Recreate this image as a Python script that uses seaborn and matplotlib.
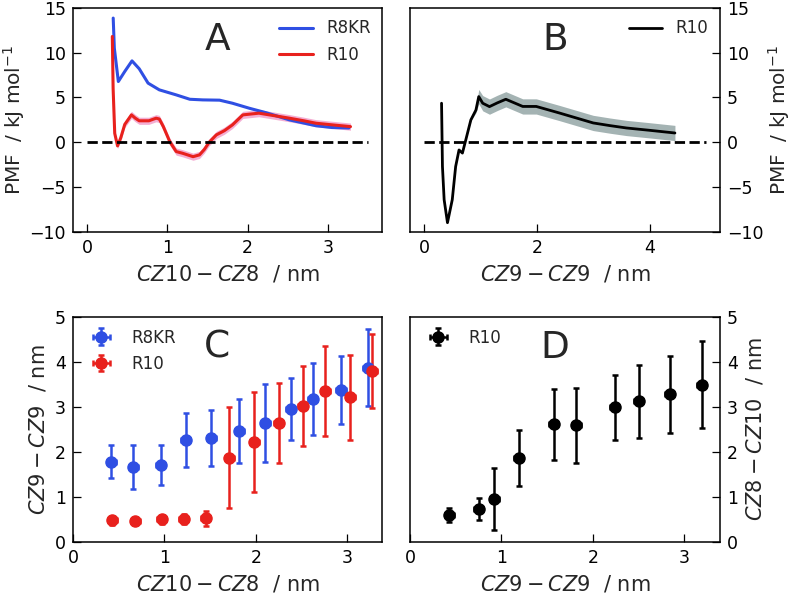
import matplotlib
matplotlib.use("Agg")
import matplotlib.pyplot as plt
import pandas as pd
import seaborn as sns

# ---- Panel A: PMF along CZ10-CZ8 ---------------------------------------
r8kr_x = [0.326, 0.34, 0.39, 0.47, 0.56, 0.65, 0.76, 0.9, 1.11, 1.28, 1.44,
          1.65, 1.81, 2.02, 2.23, 2.52, 2.85, 3.05, 3.26]
r8kr_y = [13.85, 10.5, 6.78, 7.9, 9.08, 8.2, 6.6, 5.85, 5.29, 4.8, 4.73,
          4.7, 4.36, 3.8, 3.3, 2.5, 1.85, 1.65, 1.6]

r10_x = [0.315, 0.325, 0.345, 0.38, 0.42, 0.47, 0.553, 0.6, 0.65, 0.77, 0.86,
         0.9, 0.95, 1.03, 1.11, 1.19, 1.32, 1.4, 1.46, 1.52, 1.61, 1.71, 1.81,
         1.94, 2.14, 2.31, 2.52, 2.7, 2.85, 3.05, 3.28]
r10_y = [11.8, 6.0, 1.0, -0.4, 0.5, 2.0, 3.06, 2.7, 2.4, 2.4, 2.69,
         2.6, 1.75, 0.08, -1.03, -1.22, -1.6, -1.4, -0.8, 0.0, 0.83, 1.3, 1.94,
         3.06, 3.25, 3.0, 2.69, 2.4, 2.13, 1.95, 1.75]
r10_err = [0.0, 0.1, 0.2, 0.3, 0.35, 0.35, 0.4, 0.4, 0.4, 0.4, 0.4,
           0.4, 0.4, 0.4, 0.4, 0.4, 0.4, 0.4, 0.4, 0.4, 0.4, 0.4, 0.4,
           0.4, 0.4, 0.4, 0.4, 0.4, 0.4, 0.4, 0.4]

# ---- Panel B: PMF along CZ9-CZ9 ----------------------------------------
r10b_x = [0.31, 0.326, 0.356, 0.415, 0.50, 0.56, 0.62, 0.68, 0.74, 0.83, 0.92,
          0.97, 1.04, 1.16, 1.3, 1.45, 1.75, 1.99, 2.4, 3.0, 3.3, 3.59, 4.0, 4.45]
r10b_y = [4.36, -2.7, -6.4, -8.96, -6.4, -2.7, -0.85, -1.2, 0.27, 2.5, 3.6,
          5.1, 4.36, 3.98, 4.4, 4.8, 4.0, 4.0, 3.27, 2.16, 1.86, 1.6, 1.34, 1.04]
r10b_err = [0.0, 0.0, 0.0, 0.0, 0.0, 0.0, 0.0, 0.0, 0.0, 0.1, 0.3,
            0.8, 0.85, 0.85, 0.85, 0.85, 0.85, 0.85, 0.85, 0.85, 0.85, 0.85, 0.85, 0.85]

# ---- Panel C: CZ9-CZ9 vs CZ10-CZ8 --------------------------------------
c_r8kr_x = [0.42, 0.66, 0.96, 1.23, 1.51, 1.82, 2.1, 2.38, 2.62, 2.93, 3.22]
c_r8kr_y = [1.78, 1.67, 1.71, 2.27, 2.31, 2.47, 2.64, 2.95, 3.17, 3.37, 3.87]
c_r8kr_yerr = [0.37, 0.49, 0.45, 0.6, 0.62, 0.71, 0.86, 0.69, 0.8, 0.76, 0.86]

c_r10_x = [0.43, 0.68, 0.97, 1.21, 1.45, 1.71, 1.98, 2.25, 2.51, 2.76, 3.03, 3.27]
c_r10_y = [0.48, 0.47, 0.5, 0.5, 0.52, 1.87, 2.21, 2.65, 3.02, 3.36, 3.21, 3.8]
c_r10_yerr = [0.1, 0.09, 0.1, 0.11, 0.17, 1.12, 1.11, 0.89, 0.89, 1.0, 0.95, 0.82]

# ---- Panel D: CZ8-CZ10 vs CZ9-CZ9 --------------------------------------
d_r10_x = [0.43, 0.75, 0.92, 1.19, 1.57, 1.82, 2.24, 2.5, 2.84, 3.19]
d_r10_y = [0.6, 0.73, 0.96, 1.86, 2.61, 2.59, 2.99, 3.12, 3.28, 3.49]
d_r10_yerr = [0.16, 0.24, 0.69, 0.62, 0.79, 0.83, 0.72, 0.82, 0.86, 0.97]

xerr_pts = 0.05

BLUE = "#2f4fe3"
RED = "#e8211d"
PINK = "#f29ac8"
GREY = "#9aabab"

sns.set_style("ticks")
plt.rcParams.update({
    "font.family": ["DejaVu Sans"],
    "mathtext.fontset": "dejavusans",
    "axes.edgecolor": "black",
    "axes.linewidth": 1.1,
    "xtick.direction": "in",
    "ytick.direction": "in",
    "xtick.major.size": 5.5,
    "ytick.major.size": 5.5,
    "xtick.major.width": 0.9,
    "ytick.major.width": 0.9,
    "xtick.major.pad": 5,
    "ytick.major.pad": 5,
    "xtick.color": "black",
    "ytick.color": "black",
    "xtick.labelsize": 12.5,
    "ytick.labelsize": 12.5,
    "axes.labelsize": 15,
    "legend.fontsize": 12,
})

fig = plt.figure(figsize=(7.93, 5.98), dpi=100)
axA = fig.add_axes([0.092, 0.612, 0.390, 0.375])
axB = fig.add_axes([0.517, 0.612, 0.391, 0.375])
axC = fig.add_axes([0.092, 0.094, 0.390, 0.376])
axD = fig.add_axes([0.517, 0.094, 0.391, 0.376])

pmf_label = "PMF  / kJ mol$^{-1}$"

# ---- A ----
dfA1 = pd.DataFrame({"x": r8kr_x, "y": r8kr_y})
dfA2 = pd.DataFrame({"x": r10_x, "y": r10_y, "e": r10_err})
axA.fill_between(dfA2.x, dfA2.y - dfA2.e, dfA2.y + dfA2.e, color=PINK, lw=0, alpha=0.8)
sns.lineplot(data=dfA1, x="x", y="y", ax=axA, color=BLUE, lw=2.2, label="R8KR")
sns.lineplot(data=dfA2, x="x", y="y", ax=axA, color=RED, lw=2.2, label="R10")
axA.plot([0, 3.5], [0, 0], ls="--", color="black", lw=2)
axA.set_xlim(-0.175, 3.675)
axA.set_ylim(-10, 15)
axA.set_xticks([0, 1, 2, 3])
axA.set_yticks([-10, -5, 0, 5, 10, 15])
axA.set_xlabel("$CZ10-CZ8$  / nm", labelpad=5)
axA.set_ylabel(pmf_label, labelpad=2, fontsize=14.5)
axA.legend(loc="upper right", frameon=False, borderaxespad=0.3)
axA.text(0.466, 0.857, "A", transform=axA.transAxes, fontsize=27, ha="center", va="center")

# ---- B ----
dfB = pd.DataFrame({"x": r10b_x, "y": r10b_y, "e": r10b_err})
axB.fill_between(dfB.x, dfB.y - dfB.e, dfB.y + dfB.e, color=GREY, lw=0, alpha=0.9)
sns.lineplot(data=dfB, x="x", y="y", ax=axB, color="black", lw=2.0, label="R10")
axB.plot([0, 5], [0, 0], ls="--", color="black", lw=2)
axB.set_xlim(-0.25, 5.25)
axB.set_ylim(-10, 15)
axB.set_xticks([0, 2, 4])
axB.set_yticks([-10, -5, 0, 5, 10, 15])
axB.yaxis.tick_right()
axB.yaxis.set_label_position("right")
axB.set_xlabel("$CZ9-CZ9$  / nm", labelpad=5)
axB.set_ylabel(pmf_label, labelpad=2, fontsize=14.5)
axB.legend(loc="upper right", frameon=False, borderaxespad=0.3)
axB.text(0.467, 0.857, "B", transform=axB.transAxes, fontsize=27, ha="center", va="center")

# ---- C ----
eb_kw = dict(fmt="o", ms=8, elinewidth=1.8, capsize=2.5, capthick=1.8)
axC.errorbar(c_r8kr_x, c_r8kr_y, yerr=c_r8kr_yerr, xerr=xerr_pts, color=BLUE,
             label="R8KR", **eb_kw)
axC.errorbar(c_r10_x, c_r10_y, yerr=c_r10_yerr, xerr=xerr_pts, color=RED,
             label="R10", **eb_kw)
axC.set_xlim(0, 3.38)
axC.set_ylim(0, 5)
axC.set_xticks([0, 1, 2, 3])
axC.set_yticks([0, 1, 2, 3, 4, 5])
axC.set_xlabel("$CZ10-CZ8$  / nm", labelpad=5)
axC.set_ylabel("$CZ9-CZ9$  / nm", labelpad=5)
axC.legend(loc="upper left", frameon=False, borderaxespad=0.3)
axC.text(0.465, 0.862, "C", transform=axC.transAxes, fontsize=27, ha="center", va="center")

# ---- D ----
axD.errorbar(d_r10_x, d_r10_y, yerr=d_r10_yerr, xerr=xerr_pts, color="black",
             label="R10", **eb_kw)
axD.set_xlim(0, 3.39)
axD.set_ylim(0, 5)
axD.set_xticks([0, 1, 2, 3])
axD.set_yticks([0, 1, 2, 3, 4, 5])
axD.yaxis.tick_right()
axD.yaxis.set_label_position("right")
axD.set_xlabel("$CZ9-CZ9$  / nm", labelpad=5)
axD.set_ylabel("$CZ8-CZ10$  / nm", labelpad=5)
axD.legend(loc="upper left", frameon=False, borderaxespad=0.3)
axD.text(0.467, 0.862, "D", transform=axD.transAxes, fontsize=27, ha="center", va="center")

fig.savefig("out.png", dpi=100)
